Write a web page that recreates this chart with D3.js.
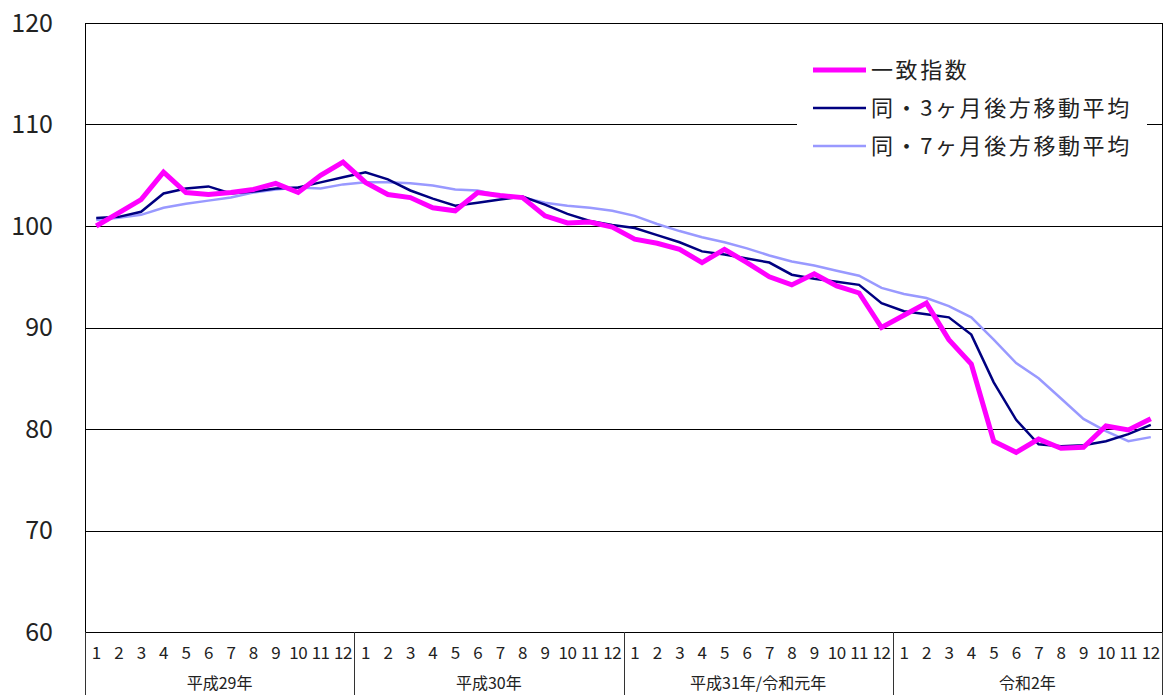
<!DOCTYPE html>
<html>
<head>
<meta charset="utf-8">
<script src="https://cdn.jsdelivr.net/npm/d3@7"></script>
<style>
  body { margin: 0; background: #fff; }
  text { font-family: "Noto Sans CJK JP", "DejaVu Sans", sans-serif; fill: #222; }
</style>
</head>
<body>
<svg id="chart" width="1163" height="695"></svg>
<script>
// month labels and year groups
const months = ["1","2","3","4","5","6","7","8","9","10","11","12"];
const years = ["平成29年", "平成30年", "平成31年/令和元年", "令和2年"];
const yTicks = [60, 70, 80, 90, 100, 110, 120];

// 一致指数
const coincident = [
  100.0, 101.3, 102.6, 105.3, 103.3, 103.1, 103.3, 103.6, 104.2, 103.3, 105.0, 106.3,
  104.3, 103.1, 102.8, 101.8, 101.5, 103.3, 103.0, 102.8, 101.0, 100.3, 100.4, 99.9,
  98.7, 98.3, 97.7, 96.4, 97.7, 96.4, 95.0, 94.2, 95.3, 94.1, 93.4, 90.0,
  91.2, 92.4, 88.8, 86.4, 78.8, 77.7, 79.0, 78.1, 78.2, 80.3, 79.9, 81.0
];
// 同・3ヶ月後方移動平均
const ma3 = [
  100.8, 100.9, 101.4, 103.2, 103.7, 103.9, 103.2, 103.4, 103.7, 103.8, 104.3, 104.8,
  105.3, 104.6, 103.5, 102.7, 102.0, 102.3, 102.6, 102.9, 102.1, 101.2, 100.5, 100.1,
  99.8, 99.1, 98.4, 97.5, 97.2, 96.8, 96.4, 95.2, 94.8, 94.5, 94.2, 92.4,
  91.6, 91.3, 91.0, 89.3, 84.6, 80.9, 78.5, 78.3, 78.4, 78.8, 79.5, 80.4
];
// 同・7ヶ月後方移動平均
const ma7 = [
  100.6, 100.8, 101.1, 101.8, 102.2, 102.5, 102.8, 103.3, 103.6, 103.8, 103.7, 104.1,
  104.3, 104.3, 104.2, 104.0, 103.6, 103.5, 103.0, 102.8, 102.3, 102.0, 101.8, 101.5,
  101.0, 100.2, 99.5, 98.9, 98.4, 97.8, 97.1, 96.5, 96.1, 95.6, 95.1, 93.9,
  93.3, 92.9, 92.1, 91.0, 88.8, 86.5, 85.0, 83.0, 81.0, 79.8, 78.8, 79.2
];

const series = [
  { name: "一致指数", values: coincident, color: "#ff00ff", width: 5 },
  { name: "同・3ヶ月後方移動平均", values: ma3, color: "#000080", width: 2.5 },
  { name: "同・7ヶ月後方移動平均", values: ma7, color: "#9999ff", width: 2.5 }
];

const plotLeft = 85, plotRight = 1162, plotTop = 23, plotBottom = 632;
const svg = d3.select("#chart");

const idx = d3.range(years.length * months.length);
const x = d3.scaleBand().domain(idx).range([plotLeft, plotRight]);
const y = d3.scaleLinear().domain([60, 120]).range([plotBottom, plotTop]);

// gridlines
svg.append("g")
  .selectAll("line")
  .data(yTicks.slice(1, -1))
  .join("line")
  .attr("x1", plotLeft).attr("x2", plotRight)
  .attr("y1", d => Math.round(y(d)) + 0.5).attr("y2", d => Math.round(y(d)) + 0.5)
  .attr("stroke", "#000").attr("stroke-width", 1);

// y labels
svg.append("g")
  .selectAll("text")
  .data(yTicks)
  .join("text")
  .attr("x", 53)
  .attr("y", d => y(d))
  .attr("dy", "0.35em")
  .attr("text-anchor", "end")
  .style("font-size", "25px")
  .text(d => d);

// lines
const line = d3.line()
  .x((d, i) => x(i) + x.bandwidth() / 2)
  .y(d => y(d));

svg.append("g")
  .selectAll("path")
  .data(series.slice().reverse())
  .join("path")
  .attr("d", d => line(d.values))
  .attr("fill", "none")
  .attr("stroke", d => d.color)
  .attr("stroke-width", d => d.width)
  .attr("stroke-linejoin", "miter");

// plot frame
svg.append("rect")
  .attr("x", plotLeft + 0.5).attr("y", plotTop + 0.5)
  .attr("width", plotRight - plotLeft).attr("height", plotBottom - plotTop)
  .attr("fill", "none").attr("stroke", "#000");

// category axis: month labels
const axisG = svg.append("g");
axisG.selectAll("text.month")
  .data(idx)
  .join("text")
  .attr("class", "month")
  .attr("x", i => x(i) + x.bandwidth() / 2)
  .attr("y", 653)
  .attr("dy", "0.35em")
  .attr("text-anchor", "middle")
  .style("font-size", "17px")
  .style("letter-spacing", "-0.5px")
  .text(i => months[i % 12]);

// year dividers
const yearEdges = d3.range(years.length + 1).map(k => k === years.length ? plotRight : x(k * 12));
axisG.selectAll("line.div")
  .data(yearEdges)
  .join("line")
  .attr("class", "div")
  .attr("x1", d => Math.round(d) + 0.5).attr("x2", d => Math.round(d) + 0.5)
  .attr("y1", plotBottom).attr("y2", 695)
  .attr("stroke", "#333");

axisG.selectAll("text.year")
  .data(years)
  .join("text")
  .attr("class", "year")
  .attr("x", (d, k) => (yearEdges[k] + yearEdges[k + 1]) / 2)
  .attr("y", 683)
  .attr("dy", "0.35em")
  .attr("text-anchor", "middle")
  .style("font-size", "16px")
  .text(d => d);

// legend
const lg = svg.append("g");
lg.append("rect")
  .attr("x", 797).attr("y", 50).attr("width", 350).attr("height", 118)
  .attr("fill", "#fff");
const rows = lg.selectAll("g.row")
  .data(series)
  .join("g")
  .attr("class", "row")
  .attr("transform", (d, i) => `translate(0, ${70 + i * 38})`);
rows.append("line")
  .attr("x1", 813).attr("x2", 866)
  .attr("stroke", d => d.color)
  .attr("stroke-width", d => d.width);
rows.append("text")
  .attr("x", 871)
  .attr("dy", "0.35em")
  .style("font-size", "22px")
  .style("letter-spacing", "2.6px")
  .text(d => d.name);
</script>
</body>
</html>
